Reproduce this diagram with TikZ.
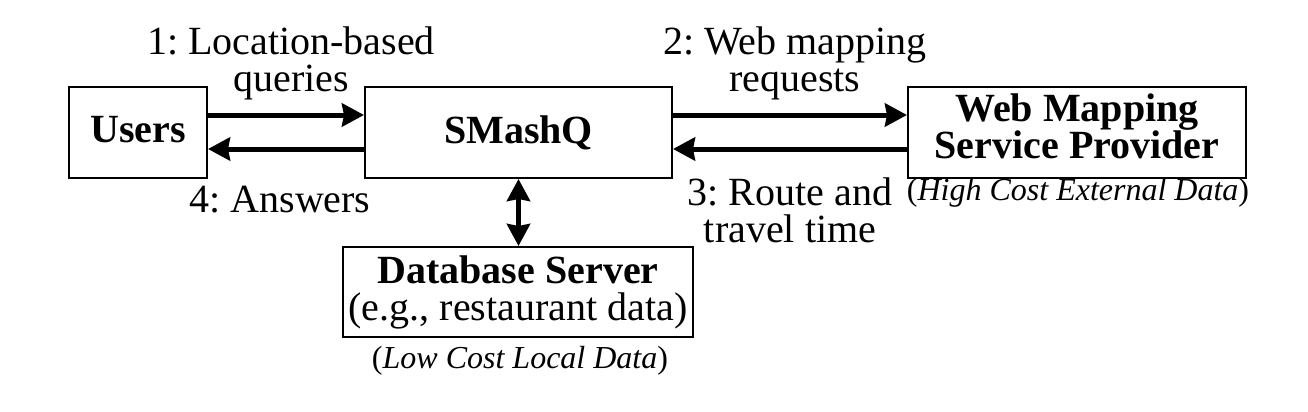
\documentclass[tikz,border=0pt]{standalone}
\usepackage{fontspec}
\setmainfont{Liberation Serif}
\usetikzlibrary{arrows.meta}
\frenchspacing
\newcommand\fbig{\fontsize{20pt}{18.5pt}\selectfont}
\newcommand\fsmall{\fontsize{16pt}{18pt}\selectfont}
\begin{document}
\begin{tikzpicture}[x=0.5pt,y=-0.5pt,
  box/.style={draw, line width=1pt, inner sep=0pt, font=\fbig\bfseries, align=center},
  lbl/.style={inner sep=0pt, font=\fbig, align=center},
  small/.style={inner sep=0pt, font=\fsmall},
  tip/.tip={Stealth[length=11pt,width=11.5pt,inset=1pt]},
  arr/.style={line width=2.5pt, -tip},
  darr/.style={line width=2.5pt, tip-tip}]
\useasboundingbox (0,0) rectangle (1308,412);
\node[box, minimum width=69pt, minimum height=45.5pt] (users) at (138,132.5) {Users\rule[-3pt]{0pt}{0pt}};
\node[box, minimum width=153.5pt, minimum height=45.5pt] (smashq) at (518.5,132.5) {SMashQ};
\node[box, minimum width=169pt, minimum height=45.5pt] (wmsp) at (1077,132.5) {Web Mapping\\Service Provider\rule[-6.5pt]{0pt}{0pt}};
\node[box, minimum width=175pt, minimum height=45pt] (db) at (518,292) {Database Server\\\mdseries(e.g., restaurant data)};
\draw[arr] ([yshift=8.75pt]users.east) -- ([yshift=8.75pt]smashq.west);
\draw[arr] ([yshift=-8.25pt]smashq.west) -- ([yshift=-8.25pt]users.east);
\draw[arr] ([yshift=8.75pt]smashq.east) -- ([yshift=8.75pt]wmsp.west);
\draw[arr] ([yshift=-8.25pt]wmsp.west) -- ([yshift=-8.25pt]smashq.east);
\draw[darr] (smashq.south) -- (smashq.south |- db.north);
\node[lbl] (l1) at (291,63.2) {1: Location-based\\queries};
\node[lbl] (l2) at (795,63.2) {2: Web mapping\\requests};
\node[lbl] (l3) at (790,209.9) {3: Route and\\travel time};
\node[lbl, anchor=base] (l4) at (280,212) {4: Answers};
\node[small, anchor=base] (hc) at (1078,200) {(\textit{High Cost External Data})};
\node[small, anchor=base] (lc) at (520,368) {(\textit{Low Cost Local Data})};
\end{tikzpicture}
\end{document}
